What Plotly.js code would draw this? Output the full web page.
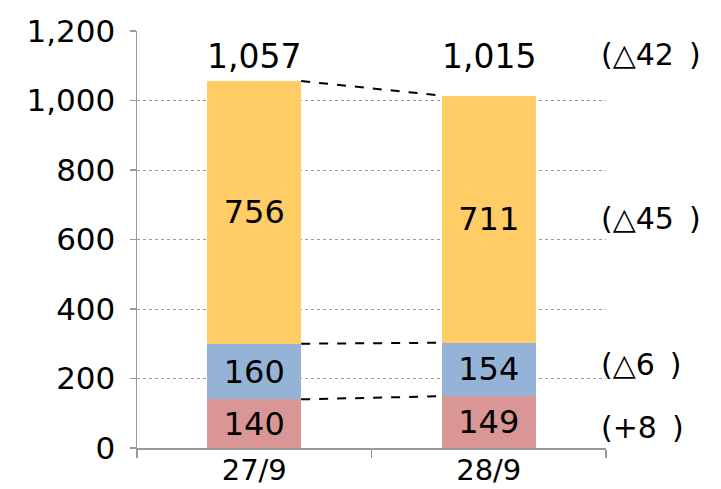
<!DOCTYPE html>
<html><head><meta charset="utf-8">
<script src="https://cdn.plot.ly/plotly-3.0.1.min.js"></script>
<style>body{margin:0;background:#fff}#c{width:721px;height:489px}</style>
</head><body><div id="c"></div>
<script>
const categories = ['27/9', '28/9'];
const bottomVals = [140, 149];
const middleVals = [160, 154];
const topVals = [756, 711];
const totalLabels = ['1,057', '1,015'];
const changeLabels = ['(△42\u2002)', '(△45\u2002)', '(△6\u2002)', '(+8\u2002)'];
const yTickVals = [0, 200, 400, 600, 800, 1000, 1200];
const yTickText = ['0', '200', '400', '600', '800', '1,000', '1,200'];

const FONT = "DejaVu Sans, sans-serif";
const tickf = {family: FONT, size: 31, color: '#000'};
const xtf = {family: FONT, size: 29, color: '#000'};
const tf = {family: FONT, size: 32, color: '#000'};
const topf = {family: FONT, size: 33, color: '#000'};
const rf = {family: FONT, size: 30, color: '#000'};
const colors = ['#DA9694', '#95B3D7', '#FFCC66'];
const series = [bottomVals, middleVals, topVals];

const traces = series.map((vals, i) => ({
  type: 'bar', x: categories, y: vals, width: 0.4,
  marker: {color: colors[i], line: {width: 0}},
  text: vals.map(String), textposition: 'inside', insidetextanchor: 'middle',
  textfont: tf, hoverinfo: 'none', showlegend: false
}));

const cum = [];
let acc = [0, 0];
series.forEach(vals => { acc = acc.map((a, j) => a + vals[j]); cum.push(acc.slice()); });

const shapes = cum.map(c => ({
  type: 'line', xref: 'x', yref: 'y', x0: 0.2, x1: 0.8, y0: c[0], y1: c[1],
  line: {color: '#000', width: 2, dash: 'dash'}
}));

const annotations = categories.map((c, j) => ({
  xref: 'x', yref: 'y', x: c, y: 1128, text: totalLabels[j],
  showarrow: false, font: topf, yanchor: 'middle'
}));
const changeY = [1132, 660, 240, 58];
changeLabels.forEach((t, i) => annotations.push({
  xref: 'paper', yref: 'y', x: 0.985, y: changeY[i], xanchor: 'left', yanchor: 'middle',
  text: t, showarrow: false, font: rf
}));

const layout = {
  width: 721, height: 489,
  margin: {l: 137, r: 115, t: 31, b: 41},
  barmode: 'stack',
  paper_bgcolor: '#fff', plot_bgcolor: '#fff',
  font: {family: FONT, color: '#000'},
  xaxis: {
    type: 'category', tickson: 'boundaries', ticks: 'outside', ticklen: 8,
    tickcolor: '#999', tickwidth: 1.5, showline: true, linecolor: '#999', linewidth: 1.5,
    showgrid: false, tickfont: xtf, ticklabelstandoff: -4, fixedrange: true
  },
  yaxis: {
    range: [0, 1200], tickvals: yTickVals, ticktext: yTickText,
    ticks: 'outside', ticklen: 6, tickcolor: '#999', tickwidth: 1.5,
    showline: true, linecolor: '#999', linewidth: 1.5,
    showgrid: true, gridcolor: '#999', griddash: 'dot', gridwidth: 1,
    zeroline: false, tickfont: tickf, ticklabelstandoff: 8, fixedrange: true
  },
  shapes: shapes, annotations: annotations
};
Plotly.newPlot('c', traces, layout, {displayModeBar: false, staticPlot: true});
</script></body></html>
